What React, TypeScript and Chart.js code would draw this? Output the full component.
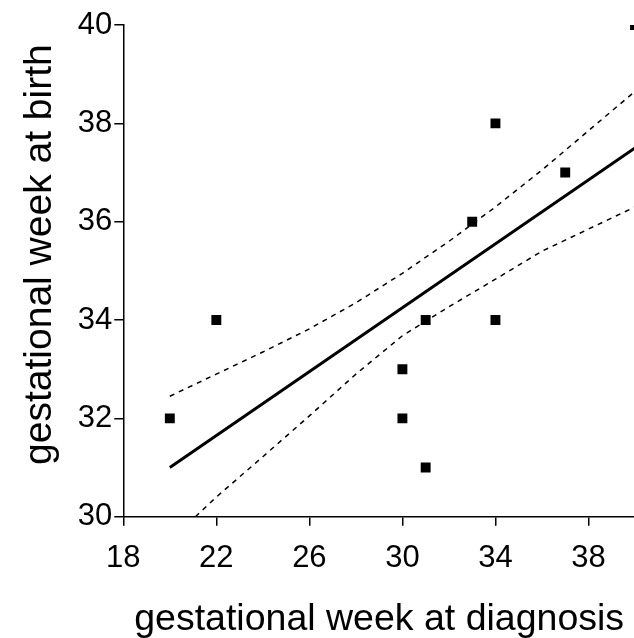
import React, { useEffect, useRef } from "react";
import { Chart, registerables } from "chart.js";

Chart.register(...registerables);

const diagnosisWeek = [20, 22, 30, 30, 31, 31, 33, 34, 34, 37, 40];
const birthWeek = [32, 34, 33, 32, 34, 31, 36, 38, 34, 37, 40];

const fitX = [20, 40];
const fitY = [31.0, 37.5];

const upperX = [20, 22, 24, 26, 28, 30, 32, 34, 36, 38, 40];
const upperY = [32.45, 32.9, 33.35, 33.82, 34.35, 34.95, 35.6, 36.3, 37.05, 37.85, 38.65];

const lowerX = [21.1, 22, 24, 26, 28, 30, 32, 34, 36, 38, 40];
const lowerY = [30, 30.4, 31.22, 32.05, 32.9, 33.68, 34.27, 34.83, 35.4, 35.85, 36.3];

const xTicks = [18, 22, 26, 30, 34, 38];
const yTicks = [30, 32, 34, 36, 38, 40];

const xTitle = "gestational week at diagnosis";
const yTitle = "gestational week at birth";

const FONT = "'Liberation Sans', Arial, sans-serif";

const pairs = (xs: number[], ys: number[]) => xs.map((x, i) => ({ x, y: ys[i] }));

export default function App() {
  const ref = useRef<HTMLCanvasElement | null>(null);

  useEffect(() => {
    if (!ref.current) return;
    const chart = new Chart(ref.current, {
      type: "scatter",
      data: {
        datasets: [
          {
            label: "patients",
            data: pairs(diagnosisWeek, birthWeek),
            backgroundColor: "#000",
            borderColor: "#000",
            pointStyle: "rect",
            pointRadius: 7,
            borderWidth: 0,
          },
          {
            label: "fit",
            data: pairs(fitX, fitY),
            showLine: true,
            borderColor: "#000",
            borderWidth: 3,
            pointRadius: 0,
          },
          {
            label: "upper",
            data: pairs(upperX, upperY),
            showLine: true,
            borderColor: "#000",
            borderWidth: 1.5,
            borderDash: [5, 5],
            pointRadius: 0,
          },
          {
            label: "lower",
            data: pairs(lowerX, lowerY),
            showLine: true,
            borderColor: "#000",
            borderWidth: 1.5,
            borderDash: [5, 5],
            pointRadius: 0,
          },
        ],
      },
      options: {
        responsive: false,
        animation: false,
        devicePixelRatio: 1,
        layout: { padding: { top: 25, right: 65, bottom: 0, left: 0 } },
        plugins: { legend: { display: false }, tooltip: { enabled: false } },
        scales: {
          x: {
            type: "linear",
            min: 18,
            max: 40,
            afterBuildTicks: (s: any) => {
              s.ticks = xTicks.map((v) => ({ value: v }));
            },
            afterFit: (s: any) => {
              s.height = 121.3;
            },
            grid: { drawOnChartArea: false, tickLength: 9, color: "#000", lineWidth: 1.5 },
            border: { color: "#000", width: 1.5 },
            ticks: { color: "#000", font: { family: FONT, size: 31 }, padding: 14, maxRotation: 0 },
            title: {
              display: true,
              text: xTitle,
              color: "#000",
              font: { family: FONT, size: 37.5 },
              padding: { top: 0, bottom: -4 },
            },
          },
          y: {
            type: "linear",
            min: 30,
            max: 40,
            afterBuildTicks: (s: any) => {
              s.ticks = yTicks.map((v) => ({ value: v }));
            },
            afterFit: (s: any) => {
              s.width = 123.3;
            },
            grid: { drawOnChartArea: false, tickLength: 9, color: "#000", lineWidth: 1.5 },
            border: { color: "#000", width: 1.5 },
            ticks: { color: "#000", font: { family: FONT, size: 31 }, padding: 2 },
            title: {
              display: true,
              text: "   " + yTitle,
              color: "#000",
              font: { family: FONT, size: 39 },
              padding: { top: 17, bottom: 0 },
            },
          },
        },
      },
    });
    return () => chart.destroy();
  }, []);

  return (
    <div
      style={{
        position: "fixed",
        left: 0,
        top: 0,
        width: 634,
        height: 638,
        overflow: "hidden",
        background: "#fff",
      }}
    >
      <canvas ref={ref} width={700} height={638} style={{ display: "block" }} />
    </div>
  );
}
